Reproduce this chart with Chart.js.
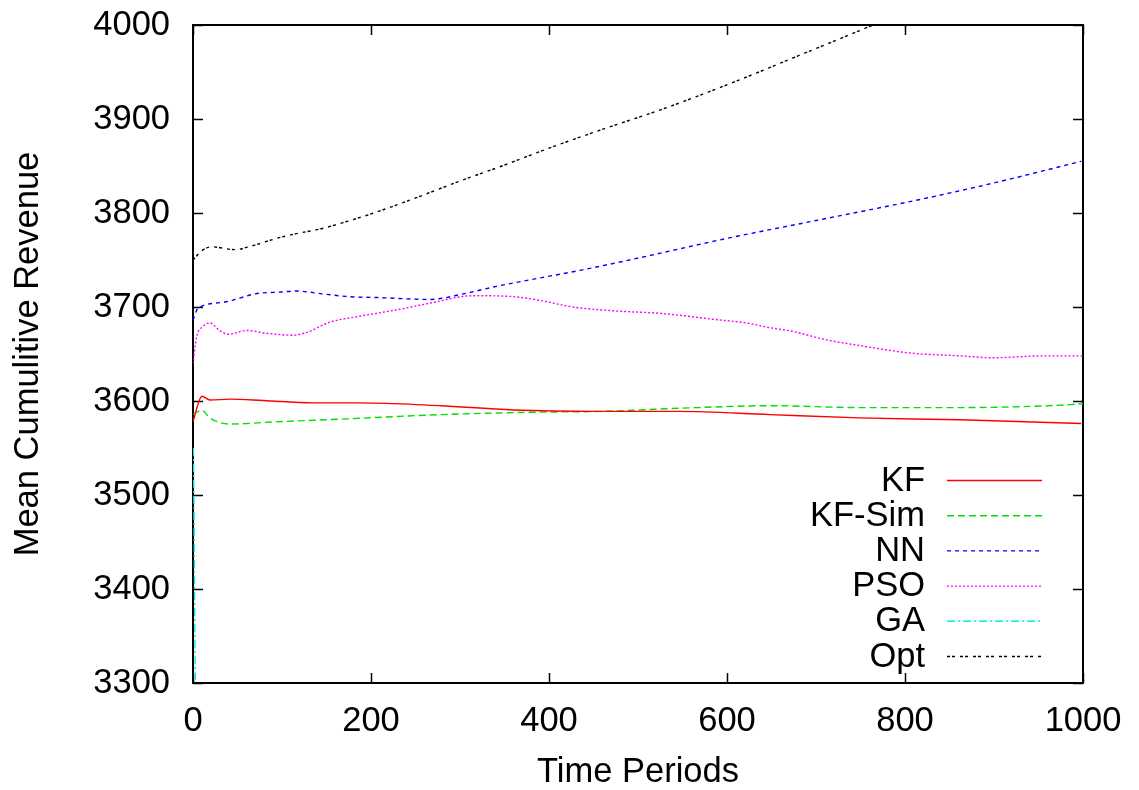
<!DOCTYPE html>
<html><head><meta charset="utf-8">
<script src="https://cdn.jsdelivr.net/npm/chart.js@4.4.0/dist/chart.umd.min.js"></script>
<style>html,body{margin:0;padding:0;background:#fff}#wrap{width:1139px;height:790px}</style>
</head><body><div id="wrap"><canvas id="c" width="1139" height="790"></canvas></div>
<script>
// ---- data ----
const kfX = [0, 10, 19, 42, 79, 135, 184, 218, 278, 360, 454, 547, 648, 749, 862, 998];
const kfY = [3578, 3605, 3601, 3602, 3600.5, 3598, 3598, 3597.5, 3595, 3590.5, 3589, 3589, 3585.5, 3582, 3580, 3576];

const kfSimX = [0, 10, 19, 42, 90, 173, 278, 379, 461, 566, 648, 749, 862, 955, 1000];
const kfSimY = [3586, 3590, 3582, 3575.5, 3577.7, 3581, 3585.5, 3588, 3589, 3593, 3595, 3593, 3593, 3594.7, 3597];

const nnX = [0, 5, 10, 40, 70, 100, 116, 145, 175, 210, 266, 304, 341, 379, 435, 500, 600, 700, 820, 900, 998];
const nnY = [3686, 3698, 3701, 3706, 3714, 3716, 3717, 3714, 3711, 3710, 3708, 3714, 3722, 3729, 3739, 3752, 3773, 3792, 3815, 3832, 3855];

const psoX = [0, 4, 11, 19, 30, 40, 60, 83, 112, 128, 154, 180, 229, 266, 315, 360, 390, 427, 472, 528, 584, 622, 648, 674, 712, 749, 806, 862, 899, 955, 1000];
const psoY = [3640, 3668, 3679, 3683, 3675, 3671, 3675, 3672, 3670, 3673, 3684, 3689, 3697, 3704, 3712, 3711, 3707, 3700, 3696, 3693, 3687, 3683, 3678, 3674, 3665, 3659, 3651, 3648, 3646, 3648, 3648];

const gaX = [0.5, 3, 10, 1000];
const gaY = [3550, 3290, 3200, 3200];

const optX = [0, 10, 21, 47, 66, 94, 116, 143, 173, 200, 250, 300, 350, 400, 457, 532, 607, 682, 764, 850, 1000];
const optY = [3750, 3760, 3764, 3761, 3765, 3773, 3778, 3783, 3791, 3799, 3816, 3834, 3851, 3869, 3888, 3912, 3939, 3968, 4000, 4035, 4100];

const seriesLabels = ['KF', 'KF-Sim', 'NN', 'PSO', 'GA', 'Opt'];
const xTickValues = [0, 200, 400, 600, 800, 1000];
const yTickValues = [3300, 3400, 3500, 3600, 3700, 3800, 3900, 4000];
const xTitle = 'Time Periods';
const yTitle = 'Mean Cumulitive Revenue';

const FONT = '"Liberation Sans", Arial, Helvetica, sans-serif';
const FS = 34.5;

function pts(xs, ys) { return xs.map((x, i) => ({x: x, y: ys[i]})); }

const styles = [
  {color: '#ff0000', dash: []},
  {color: '#00e000', dash: [7, 4]},
  {color: '#0000ff', dash: [4, 4]},
  {color: '#ff00ff', dash: [2, 2]},
  {color: '#00eeee', dash: [8, 3, 2, 3]},
  {color: '#000000', dash: [3, 2, 3, 5]}
];
const allX = [kfX, kfSimX, nnX, psoX, gaX, optX];
const allY = [kfY, kfSimY, nnY, psoY, gaY, optY];

const datasets = seriesLabels.map((lab, i) => ({
  label: lab,
  data: pts(allX[i], allY[i]),
  borderColor: styles[i].color,
  backgroundColor: styles[i].color,
  borderDash: styles[i].dash,
  borderWidth: 1.4,
  pointRadius: 0,
  fill: false,
  cubicInterpolationMode: 'monotone'
}));

const framePlugin = {
  id: 'frame',
  beforeDatasetsDraw(chart) {
    const {ctx, chartArea: a, scales: {x, y}} = chart;
    ctx.save();
    ctx.strokeStyle = '#000';
    ctx.lineWidth = 1.5;
    ctx.setLineDash([]);
    ctx.beginPath();
    yTickValues.forEach(v => {
      const py = Math.round(y.getPixelForValue(v)) + 0.5;
      ctx.moveTo(a.left, py); ctx.lineTo(a.left + 10, py);
      ctx.moveTo(a.right, py); ctx.lineTo(a.right - 10, py);
    });
    xTickValues.forEach(v => {
      const px = Math.round(x.getPixelForValue(v)) + 0.5;
      ctx.moveTo(px, a.bottom); ctx.lineTo(px, a.bottom - 10);
      ctx.moveTo(px, a.top); ctx.lineTo(px, a.top + 10);
    });
    ctx.stroke();
    ctx.lineWidth = 2;
    ctx.strokeRect(a.left, a.top, a.right - a.left, a.bottom - a.top);
    ctx.restore();
  },
  afterDraw(chart) {
    const {ctx, chartArea: a} = chart;
    ctx.save();
    ctx.font = FS + 'px ' + FONT;
    ctx.textAlign = 'right';
    ctx.textBaseline = 'middle';
    chart.data.datasets.forEach((ds, i) => {
      const yy = a.bottom - 203 + i * 35.2;
      ctx.fillStyle = '#000';
      ctx.fillText(ds.label, a.right - 158, yy + 1);
      ctx.strokeStyle = ds.borderColor;
      ctx.lineWidth = ds.borderWidth;
      ctx.setLineDash(ds.borderDash);
      ctx.beginPath();
      ctx.moveTo(a.right - 136, yy + 0.5);
      ctx.lineTo(a.right - 41, yy + 0.5);
      ctx.stroke();
    });
    ctx.restore();
  }
};

const hiddenGrid = (len) => ({display: true, drawOnChartArea: false, drawTicks: true, tickLength: len, tickColor: 'rgba(0,0,0,0)', color: 'rgba(0,0,0,0)'});

new Chart(document.getElementById('c'), {
  type: 'line',
  data: {datasets: datasets},
  plugins: [framePlugin],
  options: {
    responsive: false,
    animation: false,
    layout: {padding: {top: 25, right: 56, bottom: 0, left: 0}},
    plugins: {legend: {display: false}, tooltip: {enabled: false}},
    scales: {
      x: {
        type: 'linear', min: 0, max: 1000,
        afterFit(s) { s.height = 107; },
        afterBuildTicks(s) { s.ticks = xTickValues.map(v => ({value: v})); },
        grid: hiddenGrid(18),
        border: {display: false},
        ticks: {color: '#000', padding: 0, font: {family: FONT, size: FS}, maxRotation: 0, autoSkip: false,
                callback: v => String(v)},
        title: {display: true, text: xTitle, color: '#000', font: {family: FONT, size: FS, lineHeight: 1.0}, padding: {top: 0, bottom: 0}}
      },
      y: {
        type: 'linear', min: 3300, max: 4000,
        afterFit(s) { s.width = 193; },
        afterBuildTicks(s) { s.ticks = yTickValues.map(v => ({value: v})); },
        grid: hiddenGrid(23),
        border: {display: false},
        ticks: {color: '#000', padding: 0, font: {family: FONT, size: FS}, autoSkip: false,
                callback: v => String(v)},
        title: {display: true, text: yTitle, color: '#000', font: {family: FONT, size: FS, lineHeight: 1.2}, padding: {top: 8, bottom: 0}}
      }
    }
  }
});
</script>
</body></html>
